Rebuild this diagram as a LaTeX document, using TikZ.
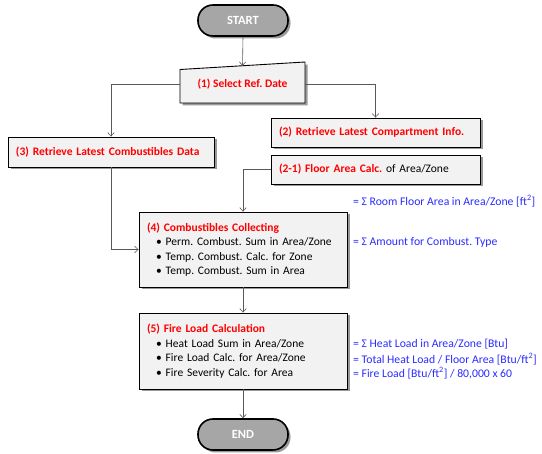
\documentclass[tikz,border=0pt]{standalone}
\usepackage{fontspec}
\setmainfont{Carlito}
\usetikzlibrary{arrows.meta,shadows,calc}
\definecolor{boxfill}{HTML}{F2F2F2}
\definecolor{pillfill}{HTML}{A6A6A6}
\definecolor{conncol}{HTML}{595959}
\definecolor{redtxt}{HTML}{FF0000}
\definecolor{bluetxt}{HTML}{2B2BFF}
\newcommand{\rtitle}[1]{{\color{redtxt}\bfseries #1}}
\newcommand{\bitem}[1]{\hspace*{9pt}\textbullet\hspace{4pt}#1}
\frenchspacing
\begin{document}
\frenchspacing
\begin{tikzpicture}[x=1pt,y=-1pt,
  shad/.style={drop shadow={shadow xshift=2.5pt,shadow yshift=-2.5pt,opacity=0.4,fill=black}},
  box/.style={draw=black, line width=0.9pt, fill=boxfill, shad, inner xsep=8pt, inner ysep=0pt,
    font=\fontsize{11.5}{14.5}\selectfont, align=left, text width=#1},
  pill/.style={draw=black, line width=1.6pt, fill=pillfill, rounded corners=15pt, shad,
    minimum width=90pt, minimum height=31pt, font=\fontsize{12.5}{14}\selectfont\bfseries, text=white},
  conn/.style={draw=conncol, line width=0.6pt, -{Straight Barb[length=3.5pt,width=6.5pt]}},
  note/.style={anchor=west, inner sep=0pt, text=bluetxt, font=\fontsize{11.7}{13}\selectfont}
]
\useasboundingbox (0,0) rectangle (542,454);

% start / end
\node[pill] (start) at (243,20.5) {START};
\node[pill] (end) at (243,434.5) {END};

% manual input shape
\path[draw=black, line width=0.9pt, fill=boxfill, shad] (180,69.5) -- (305,62) -- (305,103) -- (180,103) -- cycle;
\node[minimum width=125pt, minimum height=37pt, inner sep=0pt,
  font=\fontsize{11.5}{13}\selectfont] (sel) at (242.5,84.5) {\rtitle{(1) Select Ref. Date}};

% boxes
\node[box=193pt, minimum height=29pt] (c2) at (375.5,132.5) {\rtitle{(2) Retrieve Latest Compartment Info.}};
\node[box=193pt, minimum height=29pt] (c21) at (375.5,169.5) {\rtitle{(2-1) Floor Area Calc.} of Area/Zone};
\node[box=190pt, minimum height=30pt] (c3) at (111,152) {\rtitle{(3) Retrieve Latest Combustibles Data}};
\node[box=192pt, minimum height=75pt] (c4) at (243,249.5) {\rtitle{(4) Combustibles Collecting}\\
  \bitem{Perm. Combust. Sum in Area/Zone}\\
  \bitem{Temp. Combust. Calc. for Zone}\\
  \bitem{Temp. Combust. Sum in Area}};
\node[box=192pt, minimum height=76pt] (c5) at (243,351) {\rtitle{(5) Fire Load Calculation}\\
  \bitem{Heat Load Sum in Area/Zone}\\
  \bitem{Fire Load Calc. for Area/Zone}\\
  \bitem{Fire Severity Calc. for Area}};

% notes
\node[note] (n1) at (353,201) {= Σ Room Floor Area in Area/Zone [ft\textsuperscript{2}]};
\node[note] (n2) at (353,242) {= Σ Amount for Combust. Type};
\node[note] (n3) at (353,344) {= Σ Heat Load in Area/Zone [Btu]};
\node[note] (n4) at (353,359) {= Total Heat Load / Floor Area [Btu/ft\textsuperscript{2}]};
\node[note] (n5) at (353,373) {= Fire Load [Btu/ft\textsuperscript{2}] / 80,000 x 60};

% connectors
\draw[conn] (start.south) -- (sel.north);
\draw[conn] (sel.east) -| (c2.north);
\draw[conn] (sel.west) -| (c3.north);
\draw[conn] (c21.west) -| (c4.north);
\draw[conn] (c3.south) |- (c4.west);
\draw[conn] (c4.south) -- (c5.north);
\draw[conn] (c5.south) -- (end.north);
\end{tikzpicture}
\end{document}
